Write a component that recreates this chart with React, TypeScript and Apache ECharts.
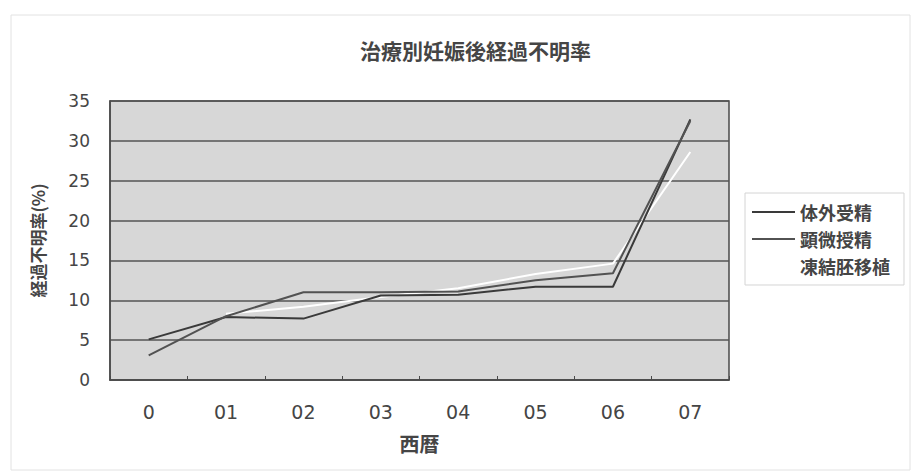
import React, { useEffect, useRef } from "react";
import * as echarts from "echarts";

// 西暦 (2000 → "0", 2001 → "01", ...)
const years = ["0", "01", "02", "03", "04", "05", "06", "07"];

// 経過不明率 (%) by treatment
const ivf = [5.1, 7.9, 7.7, 10.6, 10.7, 11.7, 11.7, 32.7]; // 体外受精
const icsi = [3.1, 8.0, 11.0, 11.0, 11.1, 12.5, 13.4, 32.5]; // 顕微授精
const frozen = [null, 8.3, 9.2, 10.4, 11.5, 13.3, 14.6, 28.6]; // 凍結胚移植

const seriesNames = ["体外受精", "顕微授精", "凍結胚移植"];
const seriesColors = ["#3a3a3a", "#525252", "#ffffff"];

const JP = "'Noto Sans CJK JP', 'Noto Sans', sans-serif";
const NUM = "'DejaVu Sans', 'Liberation Sans', sans-serif";

export default function App() {
  const ref = useRef<HTMLDivElement>(null);

  useEffect(() => {
    document.body.style.margin = "0";
    if (!ref.current) return;
    const chart = echarts.init(ref.current, null, { renderer: "svg" });
    const values = [ivf, icsi, frozen];
    chart.setOption({
      animation: false,
      backgroundColor: "#ffffff",
      title: {
        text: "治療別妊娠後経過不明率",
        left: 355,
        top: 34,
        textStyle: { fontFamily: JP, fontSize: 21, fontWeight: "bold", color: "#454545" },
      },
      graphic: [
        {
          type: "rect",
          shape: { x: 11, y: 15, width: 899, height: 455 },
          style: { fill: "none", stroke: "#e2e2e2", lineWidth: 1 },
          silent: true,
          z: -1,
        },
      ],
      legend: {
        orient: "vertical",
        left: 745,
        top: 193,
        padding: [10, 14, 10, 7],
        itemWidth: 43,
        itemHeight: 2,
        itemGap: 9,
        icon: "rect",
        borderColor: "#d4d4d4",
        borderWidth: 1,
        backgroundColor: "#ffffff",
        textStyle: { fontFamily: JP, fontSize: 18, fontWeight: "bold", color: "#454545" },
        data: seriesNames,
      },
      grid: {
        left: 110,
        top: 101,
        right: 188,
        bottom: 96,
        show: true,
        backgroundColor: "#d7d7d7",
        borderColor: "#4a4a4a",
        borderWidth: 1.5,
      },
      xAxis: {
        type: "category",
        data: years,
        boundaryGap: true,
        name: "西暦",
        nameLocation: "middle",
        nameGap: 53,
        nameTextStyle: { fontFamily: JP, fontSize: 20, fontWeight: "bold", color: "#454545" },
        axisLine: { lineStyle: { color: "#4a4a4a", width: 1.5 } },
        axisTick: { show: true, inside: true, length: 4, lineStyle: { color: "#4a4a4a" } },
        axisLabel: { fontFamily: NUM, fontSize: 19, color: "#454545", margin: 22 },
      },
      yAxis: {
        type: "value",
        min: 0,
        max: 35,
        interval: 5,
        name: "経過不明率(%)",
        nameLocation: "middle",
        nameRotate: 90,
        nameGap: 64,
        nameTextStyle: { fontFamily: JP, fontSize: 17, fontWeight: "bold", color: "#454545" },
        axisLine: { show: true, lineStyle: { color: "#4a4a4a", width: 1.5 } },
        axisTick: { show: false },
        axisLabel: { fontFamily: NUM, fontSize: 17, color: "#454545", margin: 20 },
        splitLine: { show: true, lineStyle: { color: "#555", width: 1.5 } },
      },
      series: seriesNames.map((name, i) => ({
        name,
        type: "line",
        data: values[i],
        symbol: "none",
        color: seriesColors[i],
        lineStyle: { color: seriesColors[i], width: 2 },
        z: i === 2 ? 2 : 3,
      })),
    });
    return () => chart.dispose();
  }, []);

  return <div ref={ref} style={{ width: 917, height: 476 }} />;
}
